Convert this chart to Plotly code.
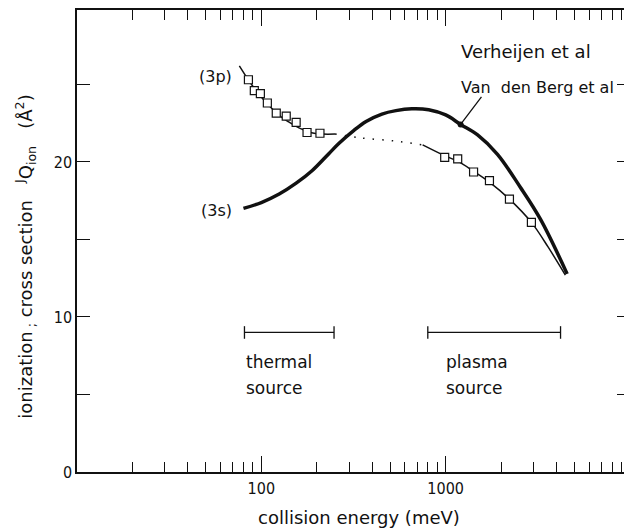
import numpy as np
import plotly.graph_objects as go

# ---- data ----
s3_x = [80, 100, 125, 154.5, 189, 233, 264, 318, 370, 451, 537, 655, 809, 1000, 1205, 1490, 1910, 2541, 3266, 4560]
s3_y = [17.0, 17.38, 17.93, 18.63, 19.45, 20.55, 21.2, 22.03, 22.61, 23.09, 23.31, 23.43, 23.37, 23.03, 22.42, 21.74, 20.49, 18.37, 16.31, 12.78]

p3_line_x = [76, 85, 95, 108, 122, 140, 160, 185, 215, 251]
p3_line_y = [26.2, 25.3, 24.5, 23.75, 23.1, 22.6, 22.2, 21.9, 21.8, 21.8]
p3_pts_x = [85.1, 91.6, 98.8, 107.8, 120.5, 136.5, 154.5, 177, 208]
p3_pts_y = [25.3, 24.6, 24.4, 23.8, 23.15, 22.95, 22.55, 21.9, 21.85]

dot_x = [251, 347, 530, 750]
dot_y = [21.8, 21.55, 21.35, 21.1]

pl_line_x = [750, 988, 1162, 1417, 1728, 2218, 2918, 3600, 4460]
pl_line_y = [21.1, 20.4, 20.05, 19.4, 18.7, 17.6, 16.1, 14.5, 12.7]
pl_pts_x = [988, 1162, 1417, 1728, 2218, 2918]
pl_pts_y = [20.3, 20.2, 19.35, 18.8, 17.6, 16.1]

ref_x = [1205]
ref_y = [22.42]

thermal_x = [81, 248]
plasma_x = [800, 4200]
range_y = 9.0

xtick_vals = [100, 1000]
xtick_text = ["100", "1000"]
xminor = [20, 30, 40, 50, 60, 70, 80, 90, 200, 300, 400, 500, 600, 700, 800, 900,
          2000, 3000, 4000, 5000, 6000, 7000, 8000, 9000]
ytick_vals = [0, 5, 10, 15, 20, 25]
ytick_text = ["0", "", "10", "", "20", ""]

BLACK = "#111111"
tickfont = dict(family="DejaVu Sans Condensed", size=16, color=BLACK)


def tf(size=17):
    return dict(family="DejaVu Sans", size=size, color=BLACK)


fig = go.Figure()

# thick (3s) curve
fig.add_trace(go.Scatter(x=s3_x, y=s3_y, mode="lines",
                         line=dict(color=BLACK, width=3.5, shape="spline", smoothing=1.0)))
# 3p curve
fig.add_trace(go.Scatter(x=p3_line_x, y=p3_line_y, mode="lines",
                         line=dict(color=BLACK, width=1.5, shape="spline", smoothing=1.0)))
# dotted connection
fig.add_trace(go.Scatter(x=dot_x, y=dot_y, mode="lines",
                         line=dict(color=BLACK, width=1.5, dash="1.5px,8px", shape="spline")))
# plasma thin curve
fig.add_trace(go.Scatter(x=pl_line_x, y=pl_line_y, mode="lines",
                         line=dict(color=BLACK, width=1.5, shape="spline", smoothing=1.0)))
# squares
fig.add_trace(go.Scatter(x=p3_pts_x + pl_pts_x, y=p3_pts_y + pl_pts_y, mode="markers",
                         marker=dict(symbol="square", size=8, color="white",
                                     line=dict(color=BLACK, width=1.2))))
# reference dot
fig.add_trace(go.Scatter(x=ref_x, y=ref_y, mode="markers",
                         marker=dict(symbol="circle", size=6, color=BLACK)))
# source range bars
for rx in (thermal_x, plasma_x):
    fig.add_trace(go.Scatter(x=rx, y=[range_y, range_y], mode="lines+markers",
                             line=dict(color=BLACK, width=1.3),
                             marker=dict(symbol="line-ns", size=9,
                                         line=dict(color=BLACK, width=1.3))))

ann = [
    dict(x=np.log10(56.4), y=25.5, text="(3p)", xanchor="center", yanchor="middle", font=tf(16)),
    dict(x=np.log10(57.2), y=16.85, text="(3s)", xanchor="center", yanchor="middle", font=tf(16)),
    dict(x=np.log10(1175), y=27.1, text="Verheijen et al", xanchor="left", yanchor="middle", font=tf(18)),
    dict(x=np.log10(1175), y=24.8, text="Van  den Berg et al", xanchor="left", yanchor="middle", font=tf(16)),
    dict(x=np.log10(81), y=7.1, text="thermal", xanchor="left", yanchor="middle", font=tf(17)),
    dict(x=np.log10(81), y=5.4, text="source", xanchor="left", yanchor="middle", font=tf(17)),
    dict(x=np.log10(975), y=7.1, text="plasma", xanchor="left", yanchor="middle", font=tf(17)),
    dict(x=np.log10(975), y=5.4, text="source", xanchor="left", yanchor="middle", font=tf(17)),
]
annotations = []
for a in ann:
    a.update(xref="x", yref="y", showarrow=False)
    annotations.append(a)
# leader line
annotations.append(dict(x=np.log10(ref_x[0]), y=ref_y[0], xref="x", yref="y", text="",
                        showarrow=True, arrowhead=0, arrowwidth=1.3, arrowcolor=BLACK,
                        ax=22, ay=-29, standoff=0))
# axis titles
annotations.append(dict(x=-0.094, y=0.466, xref="paper", yref="paper", textangle=-90,
                        text="ionization<sub> ;</sub> cross section   <sup>J</sup>Q<sub>ion</sub>   (Å<sup>2</sup>)",
                        showarrow=False, font=tf(18), xanchor="center", yanchor="middle"))
annotations.append(dict(x=0.51, y=-0.099, xref="paper", yref="paper",
                        text="collision energy (meV)", showarrow=False, font=tf(18),
                        xanchor="center", yanchor="middle"))

# the page body adds an 8px offset, so the figure is 624x521 with the plot
# area reaching the window's right edge
fig.update_layout(
    width=624, height=521,
    margin=dict(l=69, r=0, t=0, b=57),
    paper_bgcolor="white", plot_bgcolor="white",
    showlegend=False,
    annotations=annotations,
    font=tf(17),
)
fig.update_xaxes(type="log", range=[1, 4.0], showgrid=False, zeroline=False,
                 showline=True, linecolor=BLACK, linewidth=1.5, mirror="allticks",
                 ticks="inside", ticklen=16, tickwidth=1.3, tickcolor=BLACK,
                 tickvals=xtick_vals, ticktext=xtick_text, tickfont=tickfont,
                 ticklabelstandoff=1,
                 minor=dict(ticks="inside", ticklen=10, tickwidth=1.3, tickcolor=BLACK,
                            tickvals=xminor, showgrid=False))
fig.update_yaxes(range=[0, 29.8], showgrid=False, zeroline=False,
                 showline=True, linecolor=BLACK, linewidth=1.5, mirror="allticks",
                 ticks="inside", ticklen=13, tickwidth=1.3, tickcolor=BLACK,
                 tickvals=ytick_vals, ticktext=ytick_text, tickfont=tickfont)

fig.write_html("out.html")
